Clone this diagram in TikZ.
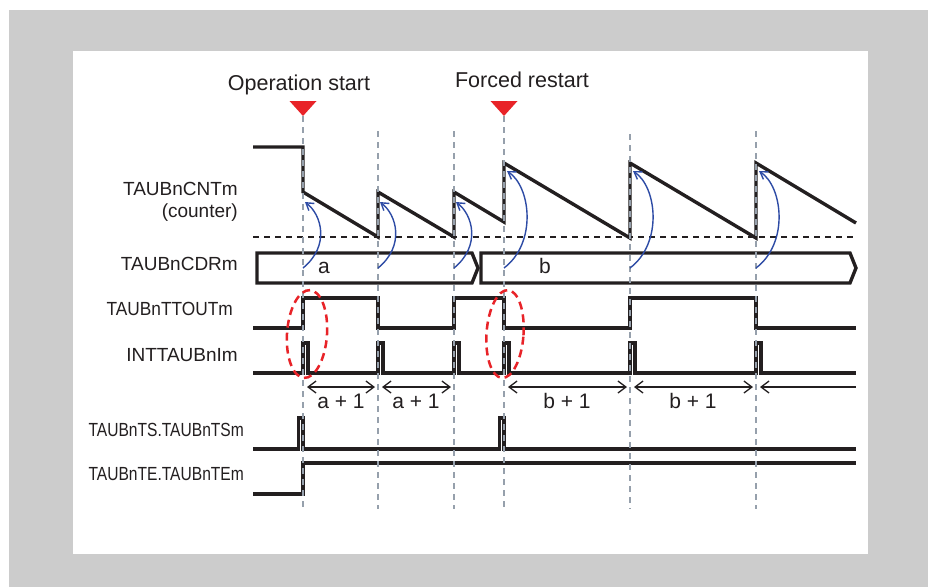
\documentclass[tikz,border=0pt]{standalone}
\usepackage{fontspec}
\usepackage{graphicx}
\setmainfont{Liberation Sans}
\usetikzlibrary{arrows.meta,shapes.geometric}
\definecolor{panelgray}{RGB}{204,204,204}
\definecolor{guidegray}{RGB}{150,160,172}
\definecolor{fbblue}{RGB}{45,75,165}
\definecolor{mkred}{RGB}{232,35,40}
\definecolor{ink}{RGB}{35,31,32}
\newcommand{\lblfont}{\fontsize{19}{22}\selectfont}
\newcommand{\ttlfont}{\fontsize{21.5}{25}\selectfont}
\newcommand{\valfont}{\fontsize{21}{24}\selectfont}
\begin{document}
\begin{tikzpicture}[x=1pt,y=-1pt,
  sig/.style={draw=ink,line width=3.4pt,line join=miter},
  guide/.style={draw=guidegray,line width=1.4pt,dash pattern=on 6pt off 5pt},
  thr/.style={draw=ink,line width=1.4pt,dash pattern=on 6pt off 5pt},
  feed/.style={draw=fbblue,line width=1.4pt,-{Straight Barb[length=7pt,width=9pt]}},
  dimarr/.style={draw=ink,line width=1.3pt,{Straight Barb[length=8pt,width=12pt]}-{Straight Barb[length=8pt,width=12pt]}},
  dimleft/.style={draw=ink,line width=1.3pt,{Straight Barb[length=8pt,width=12pt]}-},
  lbl/.style={text=ink,font=\lblfont,anchor=base east,inner sep=0pt},
  ttl/.style={text=ink,font=\ttlfont,anchor=base,inner sep=0pt},
  val/.style={text=ink,font=\valfont,anchor=base,inner sep=0pt},
  ring/.style={draw=mkred,line width=2.5pt,dash pattern=on 8pt off 5pt,ellipse,inner sep=0pt},
  marker/.style={fill=mkred}
]
\useasboundingbox (0,0) rectangle (928,587);
\fill[white] (0,0) rectangle (928,587);
\fill[panelgray] (9,10) rectangle (928,587);
\fill[white] (73,51) rectangle (868,554);

% titles and markers
\node[ttl] (opstart) at (299,90) {Operation start};
\node[ttl] (forced) at (522,87) {Forced restart};
\fill[marker] (289.5,101) -- (316.5,101) -- (303,116) -- cycle;
\fill[marker] (490.5,101) -- (517.5,101) -- (504,116) -- cycle;

% signal labels
\node[lbl] (lcnt) at (238,195) {TAUBnCNTm};
\node[lbl] (lcntb) at (238,217) {(counter)};
\node[lbl] (lcdr) at (238,270) {TAUBnCDRm};
\node[lbl] (ltt) at (233,315) {\scalebox{0.91}[1]{TAUBnTTOUTm}};
\node[lbl] (lint) at (238,361.5) {INTTAUBnIm};
\node[lbl] (lts) at (244,436.5) {\scalebox{0.82}[1]{TAUBnTS.TAUBnTSm}};
\node[lbl] (lte) at (244,480) {\scalebox{0.82}[1]{TAUBnTE.TAUBnTEm}};

% counter
\draw[thr] (253,237) -- (856,237);
\draw[sig] (253,147) -- (303,147) -- (303,192) -- (378,237) -- (378,192) -- (454,237) -- (454,192)
  -- (504,222) -- (504,163) -- (630,238) -- (630,163) -- (756,238) -- (756,163) -- (856,223);

% CDR bus
\draw[sig] (257,253) -- (472,253) -- (478,268) -- (472,283) -- (257,283) -- cycle;
\draw[sig] (481,253) -- (850,253) -- (856,268) -- (850,283) -- (481,283) -- cycle;
\node[val] (bva) at (324,273.5) {a};
\node[val] (bvb) at (545,273.5) {b};

% TTOUT
\draw[sig] (253,328) -- (303,328) -- (303,298) -- (378,298) -- (378,328) -- (454,328) -- (454,298)
  -- (504,298) -- (504,328) -- (630,328) -- (630,298) -- (756,298) -- (756,328) -- (856,328);

% INT
\draw[sig] (253,373) -- (303,373) -- (303,343) -- (308,343) -- (308,373)
  -- (378,373) -- (378,343) -- (383,343) -- (383,373)
  -- (454,373) -- (454,343) -- (459,343) -- (459,373)
  -- (504,373) -- (504,343) -- (509,343) -- (509,373)
  -- (630,373) -- (630,343) -- (635,343) -- (635,373)
  -- (756,373) -- (756,343) -- (761,343) -- (761,373) -- (856,373);

% TS
\draw[sig] (253,449) -- (298.5,449) -- (298.5,418) -- (303,418) -- (303,449)
  -- (499.5,449) -- (499.5,418) -- (504,418) -- (504,449) -- (856,449);
% TE
\draw[sig] (253,494) -- (303,494) -- (303,463) -- (856,463);

% guide lines
\coordinate (g1t) at (303,116); \coordinate (g1b) at (303,509);
\coordinate (g2t) at (378,131); \coordinate (g2b) at (378,509);
\coordinate (g3t) at (454,131); \coordinate (g3b) at (454,509);
\coordinate (g4t) at (504,116); \coordinate (g4b) at (504,509);
\coordinate (g5t) at (630,134); \coordinate (g5b) at (630,509);
\coordinate (g6t) at (756,131); \coordinate (g6b) at (756,509);
\foreach \i in {1,...,6} { \draw[guide] (g\i t) -- (g\i b); }

% period arrows
\coordinate (d1a) at (307,387); \coordinate (d1b) at (375,387);
\coordinate (d2a) at (382,387); \coordinate (d2b) at (451,387);
\coordinate (d3a) at (508,387); \coordinate (d3b) at (627,387);
\coordinate (d4a) at (634,387); \coordinate (d4b) at (753,387);
\coordinate (d5a) at (760,387); \coordinate (d5b) at (856,387);
\draw[dimarr] (d1a) -- (d1b);
\draw[dimarr] (d2a) -- (d2b);
\draw[dimarr] (d3a) -- (d3b);
\draw[dimarr] (d4a) -- (d4b);
\draw[dimleft] (d5a) -- (d5b);
\node[val] (p1) at (341,408) {a + 1};
\node[val] (p2) at (416,408) {a + 1};
\node[val] (p3) at (567,408) {b + 1};
\node[val] (p4) at (693,408) {b + 1};

% reload arrows CDR -> counter
\coordinate (s1) at (303,268); \coordinate (e1) at (305,202);
\coordinate (s2) at (378,268); \coordinate (e2) at (380,202);
\coordinate (s3) at (454,268); \coordinate (e3) at (456,202);
\coordinate (s4) at (504,268); \coordinate (e4) at (507,171);
\coordinate (s5) at (630,268); \coordinate (e5) at (633,171);
\coordinate (s6) at (756,268); \coordinate (e6) at (759,171);
\draw[feed] (s1) .. controls +(27,-22) and +(17,13) .. (e1);
\draw[feed] (s2) .. controls +(27,-22) and +(17,13) .. (e2);
\draw[feed] (s3) .. controls +(27,-22) and +(17,13) .. (e3);
\draw[feed] (s4) .. controls +(33,-25) and +(24,16) .. (e4);
\draw[feed] (s5) .. controls +(33,-25) and +(24,16) .. (e5);
\draw[feed] (s6) .. controls +(33,-25) and +(24,16) .. (e6);

% red rings
\node[ring,minimum width=40pt,minimum height=88pt,rotate=-4] (r1) at (307,334) {};
\node[ring,minimum width=37pt,minimum height=88pt,rotate=-4] (r2) at (505,334) {};
\end{tikzpicture}
\end{document}
